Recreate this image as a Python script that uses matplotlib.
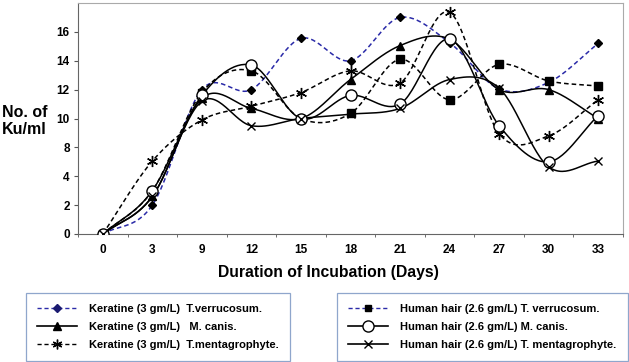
import numpy as np
import matplotlib
matplotlib.use('Agg')
import matplotlib.pyplot as plt
from matplotlib.lines import Line2D

plt.rcParams['font.family'] = ['Liberation Sans', 'DejaVu Sans']
plt.rcParams['font.weight'] = 'bold'

days = ['0', '3', '9', '12', '15', '18', '21', '24', '27', '30', '33']
ker_tv = [0, 2.0, 12.0, 12.0, 15.55, 14.0, 17.0, 15.25, 12.05, 12.5, 15.2]
ker_mc = [0, 2.6, 11.4, 10.7, 10.0, 12.7, 15.05, 15.5, 12.0, 12.0, 10.0]
ker_tm = [0, 6.1, 9.9, 10.85, 11.8, 13.3, 12.45, 17.35, 8.95, 8.8, 11.3]
hh_tv = [0, 3.0, 11.8, 13.3, 10.0, 10.35, 14.1, 11.3, 13.75, 12.6, 12.25]
hh_mc = [0, 3.0, 11.6, 13.7, 10.0, 11.6, 11.0, 15.5, 9.5, 6.0, 10.2]
hh_tm = [0, 2.6, 11.2, 9.5, 10.0, 10.3, 10.7, 12.7, 12.1, 5.3, 6.1]

# the y axis of the original skips "6": labels are evenly spaced
ylabels = [0, 2, 4, 8, 10, 12, 14, 16, 18]
ypos = np.arange(len(ylabels))

def fwd(v):
    return np.interp(v, ylabels, ypos)

def inv(p):
    return np.interp(p, ypos, ylabels)

def smooth(y, n=30):
    # catmull-rom style smoothing (like excel "smoothed line"), done in axis space
    p = fwd(np.asarray(y, float))
    x = np.arange(len(p), dtype=float)
    xs, ys = [], []
    for i in range(len(p) - 1):
        i0, i3 = max(i - 1, 0), min(i + 2, len(p) - 1)
        mx1 = (x[i + 1] - x[i0]) / 2 if i > 0 else x[i + 1] - x[i]
        my1 = (p[i + 1] - p[i0]) / 2 if i > 0 else p[i + 1] - p[i]
        mx2 = (x[i3] - x[i]) / 2 if i + 2 < len(p) else x[i + 1] - x[i]
        my2 = (p[i3] - p[i]) / 2 if i + 2 < len(p) else p[i + 1] - p[i]
        t = np.linspace(0, 1, n)
        h00 = 2*t**3 - 3*t**2 + 1
        h10 = t**3 - 2*t**2 + t
        h01 = -2*t**3 + 3*t**2
        h11 = t**3 - t**2
        xs.append(h00*x[i] + h10*mx1 + h01*x[i+1] + h11*mx2)
        ys.append(h00*p[i] + h10*my1 + h01*p[i+1] + h11*my2)
    return np.concatenate(xs), inv(np.concatenate(ys))

blue = '#2a2aa8'
series = [
    (ker_tv, blue, (0, (3, 2)), 'D', 'black', 4.5),
    (ker_mc, 'black', '-', '^', 'black', 6),
    (ker_tm, 'black', (0, (3, 2)), (6, 2, 0), 'black', 8),
    (hh_tv, 'black', (0, (3, 2)), 's', 'black', 6),
    (hh_mc, 'black', '-', 'o', 'white', 8),
    (hh_tm, 'black', '-', 'x', 'black', 6),
]

fig = plt.figure(figsize=(6.29, 3.62), dpi=100)
ax = fig.add_axes([78/629, 1-234/362, 545/629, 231/362])
ax.set_yscale('function', functions=(fwd, inv))

x = np.arange(len(days))
for y, c, ls, m, mfc, ms in series:
    sx, sy = smooth(y)
    ax.plot(sx, sy, color=c, ls=ls, lw=1.1, zorder=2)
for y, c, ls, m, mfc, ms in series:
    ax.plot(x, y, ls='none', marker=m, ms=ms, mfc=mfc, mec='black', mew=1.0, zorder=3)

ax.set_xlim(-0.5, 10.5)
ax.set_ylim(0, 18)
ax.set_yticks(ylabels[:-1])
ax.set_yticklabels([str(v) for v in ylabels[:-1]], fontsize=8.5, fontweight='bold')
ax.set_xticks(x)
ax.set_xticklabels(days, fontsize=8.5, fontweight='bold')
ax.tick_params(axis='x', length=0, pad=7)
ax.set_xticks(np.arange(-0.5, 10.6, 1), minor=True)
ax.tick_params(axis='x', which='minor', length=2, color='#555555')
ax.tick_params(axis='y', length=3, pad=3, color='#555555')
ax.yaxis.set_minor_locator(matplotlib.ticker.NullLocator())
for s in ['left', 'bottom']:
    ax.spines[s].set_color('#666666')
for s in ['top', 'right']:
    ax.spines[s].set_color('#aaaaaa')

fig.text(2/629, 1-121/362, 'No. of\nKu/ml', ha='left', va='center', fontsize=11.5,
         fontweight='bold', linespacing=1.1)
fig.text(328/629, 1-272/362, 'Duration of Incubation (Days)', ha='center', va='center',
         fontsize=11.3, fontweight='bold')

h1 = [Line2D([], [], color=blue, ls=(0, (3, 2)), lw=1, marker='D', ms=4, mfc='#1a1a70', mec='#1a1a70'),
      Line2D([], [], color='black', ls='-', lw=1.2, marker='^', ms=6, mfc='black', mec='black'),
      Line2D([], [], color='black', ls=(0, (3, 2)), lw=1, marker=(6, 2, 0), ms=7, mec='black')]
l1 = ['Keratine (3 gm/L)  T.verrucosum.', 'Keratine (3 gm/L)   M. canis.',
      'Keratine (3 gm/L)  T.mentagrophyte.']
h2 = [Line2D([], [], color=blue, ls=(0, (3, 2)), lw=1, marker='s', ms=5, mfc='black', mec='black'),
      Line2D([], [], color='black', ls='-', lw=1.2, marker='o', ms=8, mfc='white', mec='black'),
      Line2D([], [], color='black', ls='-', lw=1.2, marker='x', ms=6, mec='black')]
l2 = ['Human hair (2.6 gm/L) T. verrucosum.', 'Human hair (2.6 gm/L) M. canis.',
      'Human hair (2.6 gm/L) T. mentagrophyte.']

kw = dict(loc='upper left', prop={'weight': 'bold', 'size': 8}, fancybox=False,
          edgecolor='#8fa6cc', handlelength=3.6, handletextpad=1.1, labelspacing=0.7,
          borderpad=1.0, borderaxespad=0, framealpha=1)
leg1 = fig.legend(h1, l1, bbox_to_anchor=(26/629, 1-293/362), **kw)
leg2 = fig.legend(h2, l2, bbox_to_anchor=(337/629, 1-293/362), **kw)
for lg in (leg1, leg2):
    lg.get_frame().set_linewidth(0.9)

fig.savefig('out.png', dpi=100)
